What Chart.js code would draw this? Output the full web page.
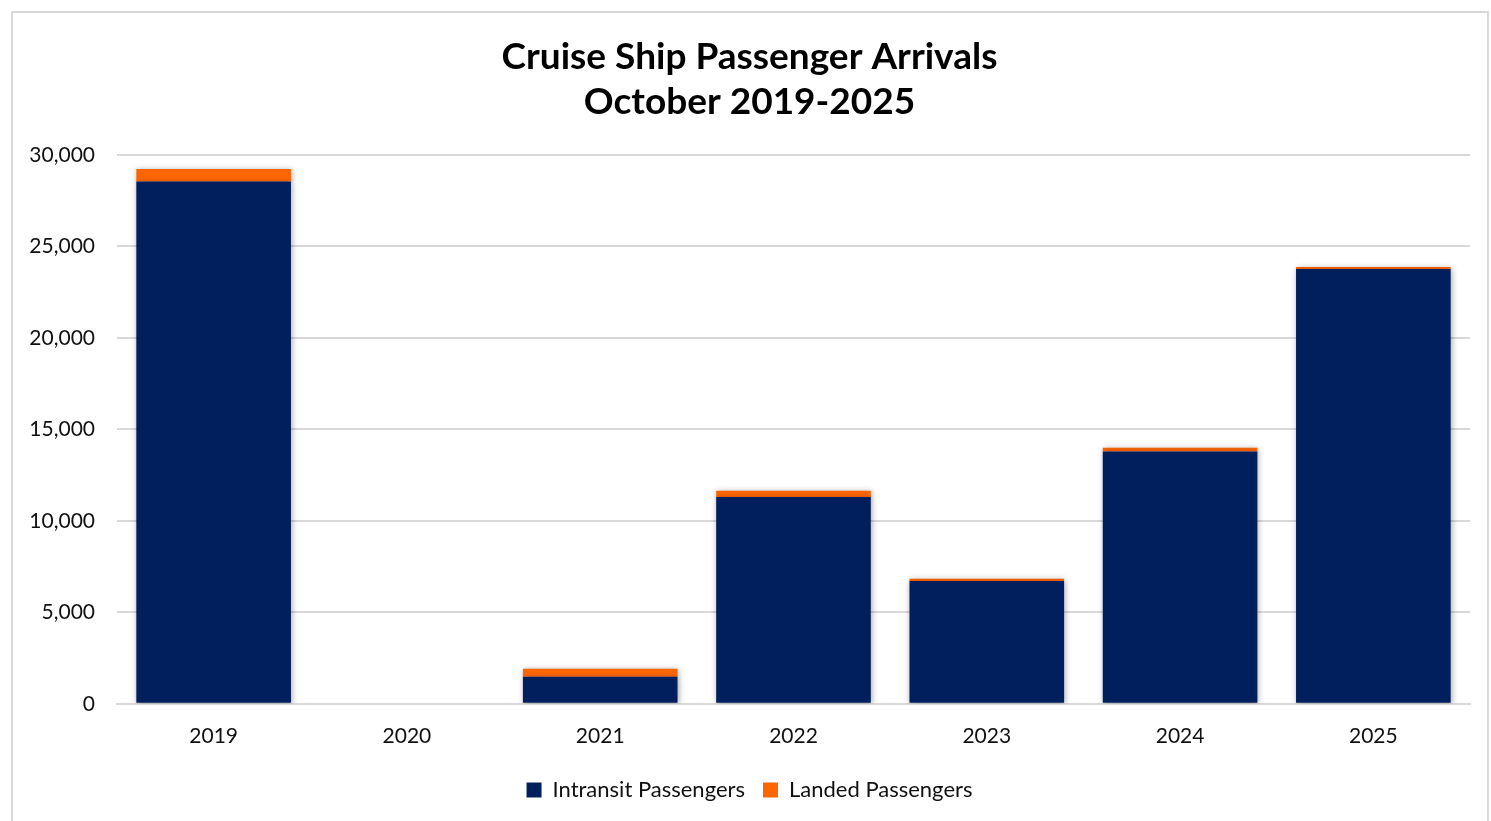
<!DOCTYPE html>
<html>
<head>
<meta charset="utf-8">
<script src="https://cdn.jsdelivr.net/npm/chart.js@4"></script>
<style>
  body { margin: 0; background: #fff; }
  #box {
    position: absolute; left: 11px; top: 11px;
    width: 1478px; height: 820px;
    border: 2px solid #d9d9d9; box-sizing: border-box; background: #fff;
  }
</style>
</head>
<body>
<div id="box"><canvas id="chart"></canvas></div>
<script>
const years = ['2019', '2020', '2021', '2022', '2023', '2024', '2025']
const intransit = [28540, 0, 1475, 11295, 6705, 13790, 23755]
const landed = [680, 0, 440, 345, 125, 200, 110]
const yTicks = [0, 5000, 10000, 15000, 20000, 25000, 30000]

const barShadow = {
  id: 'barShadow',
  beforeDatasetsDraw(chart) {
    const ctx = chart.ctx
    ctx.save()
    ctx.shadowColor = 'rgba(0,0,0,0.35)'
    ctx.shadowBlur = 6
    ctx.shadowOffsetX = 1
    ctx.shadowOffsetY = 1
  },
  afterDatasetsDraw(chart) {
    chart.ctx.restore()
  },
}

document.addEventListener('DOMContentLoaded', () => {
  const canvas = document.getElementById('chart')
  canvas.width = 1474
  canvas.height = 816
  new Chart(canvas.getContext('2d'), {
    type: 'bar',
    data: {
      labels: years,
      datasets: [
        {
          label: 'Intransit Passengers',
          data: intransit,
          backgroundColor: '#001f5c',
          borderWidth: 0,
          categoryPercentage: 0.8,
          barPercentage: 1,
        },
        {
          label: 'Landed Passengers',
          data: landed,
          backgroundColor: '#ff6600',
          borderWidth: 0,
          categoryPercentage: 0.8,
          barPercentage: 1,
        },
      ],
    },
    plugins: [barShadow],
    options: {
      responsive: false,
      animation: false,
      layout: { padding: { left: 16, right: 17, top: 14, bottom: 18 } },
      plugins: {
        title: {
          display: true,
          text: ['Cruise Ship Passenger Arrivals', 'October 2019-2025'],
          color: '#000',
          font: { family: 'Lato', size: 37, weight: 'bold', lineHeight: 1.2 },
          padding: { top: 8, bottom: 31 },
        },
        legend: {
          position: 'bottom',
          labels: {
            color: '#111',
            font: { family: 'Lato', size: 22 },
            boxWidth: 15,
            boxHeight: 15,
            padding: 18,
          },
        },
        tooltip: { enabled: false },
      },
      scales: {
        x: {
          stacked: true,
          grid: { display: false },
          border: { color: '#d9d9d9', width: 2 },
          ticks: { color: '#111', font: { family: 'Lato', size: 21 }, padding: 12 },
        },
        y: {
          stacked: true,
          min: 0,
          max: 30000,
          afterBuildTicks(axis) {
            axis.ticks = yTicks.map((v) => ({ value: v }))
          },
          afterFit(axis) {
            axis.width = 88
          },
          grid: { color: '#d9d9d9', lineWidth: 2, drawTicks: false },
          border: { display: false },
          ticks: {
            color: '#111',
            font: { family: 'Lato', size: 21 },
            padding: 22,
            callback: (v) => v.toLocaleString('en-US'),
          },
        },
      },
    },
  })
})
</script>
</body>
</html>
